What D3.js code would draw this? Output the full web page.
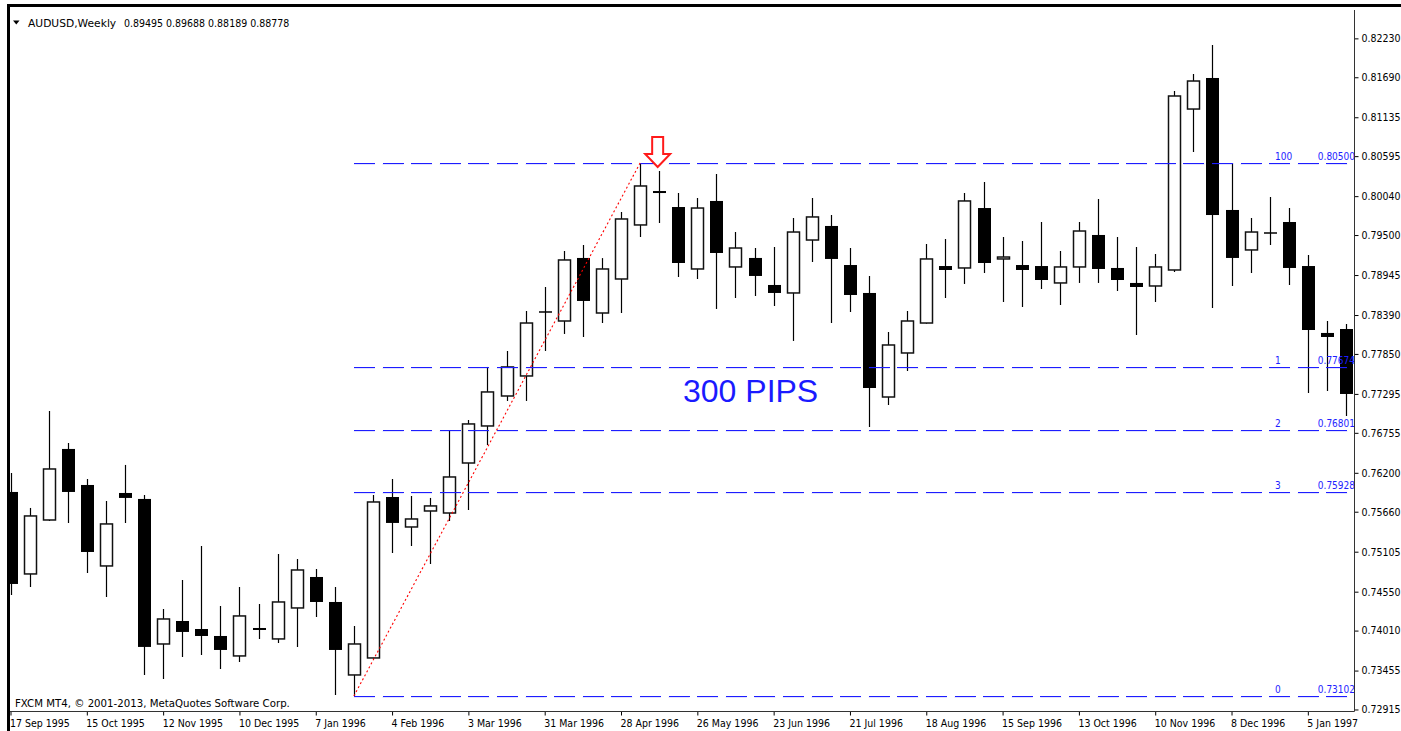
<!DOCTYPE html>
<html><head><meta charset="utf-8">
<script src="https://cdn.jsdelivr.net/npm/d3@7"></script>
<style>
html,body{margin:0;padding:0;background:#fff;overflow:hidden}
svg{display:block}
text{font-family:"DejaVu Sans Condensed","DejaVu Sans",sans-serif}
</style></head><body>
<svg id="c" width="1401" height="731"></svg>
<script>
const startDate = "1995-09-17";
const opens = [
0.75934,0.74796,0.75545,0.76531,0.76031,0.74907,0.75920,0.75837,0.73824,0.74143,
0.74032,0.73935,0.73658,0.74046,0.73894,0.74324,0.74754,0.74407,0.73394,0.73630,
0.75864,0.75448,0.75670,0.75642,0.76336,0.76850,0.77266,0.77544,0.78432,0.78307,
0.79182,0.78418,0.78890,0.79640,0.80111,0.79889,0.79029,0.79973,0.79057,0.79182,
0.78807,0.78696,0.79431,0.79626,0.79084,0.78696,0.77252,0.77863,0.78279,0.79070,
0.79043,0.79875,0.79168,0.79084,0.79070,0.78835,0.79057,0.79501,0.79043,0.78835,
0.78793,0.79015,0.81249,0.81680,0.79848,0.79293,0.79528,0.79681,0.79070,0.78141,
0.78196];
const highs = [
0.76197,0.75712,0.77058,0.76614,0.76114,0.75809,0.76309,0.75892,0.74310,0.74713,
0.75184,0.74352,0.74615,0.74379,0.75073,0.75004,0.74865,0.74615,0.74074,0.75892,
0.76114,0.75878,0.75851,0.76780,0.76933,0.77669,0.77891,0.78446,0.78779,0.79279,
0.79362,0.79180,0.79820,0.80500,0.80389,0.80084,0.80014,0.80347,0.79542,0.79320,
0.79334,0.79737,0.80014,0.79778,0.79320,0.78932,0.78154,0.78446,0.79376,0.79445,
0.80084,0.80236,0.79473,0.79417,0.79681,0.79279,0.79681,0.80000,0.79473,0.79334,
0.79237,0.81499,0.81735,0.82138,0.80500,0.79737,0.80028,0.79875,0.79223,0.78307,
0.78266];
const lows = [
0.74504,0.74615,0.75531,0.75504,0.74810,0.74477,0.75504,0.73394,0.73338,0.73644,
0.73672,0.73477,0.73574,0.73894,0.73838,0.73783,0.74199,0.73116,0.73102,0.73620,
0.75087,0.75184,0.74935,0.75531,0.75684,0.76586,0.77197,0.77197,0.77891,0.78127,
0.78085,0.78279,0.78418,0.79473,0.79667,0.78918,0.78890,0.78474,0.78626,0.78654,
0.78515,0.78030,0.79126,0.78279,0.78432,0.76836,0.77141,0.77613,0.78270,0.78626,
0.78821,0.78973,0.78571,0.78501,0.78751,0.78529,0.78835,0.78835,0.78723,0.78113,
0.78571,0.78987,0.80653,0.78488,0.78793,0.78973,0.79362,0.78807,0.77308,0.77336,
0.76989];
const closes = [
0.74657,0.75601,0.76253,0.75934,0.75101,0.75490,0.75851,0.73783,0.74171,0.73991,
0.73935,0.73741,0.74213,0.74019,0.74407,0.74851,0.74407,0.73741,0.73824,0.75795,
0.75504,0.75559,0.75740,0.76142,0.76878,0.77322,0.77669,0.78279,0.78432,0.79154,
0.78585,0.79029,0.79723,0.80181,0.80084,0.79112,0.79875,0.79251,0.79320,0.78932,
0.78696,0.79542,0.79751,0.79168,0.78668,0.77377,0.77974,0.78307,0.79168,0.79015,
0.79973,0.79112,0.79195,0.79015,0.78876,0.79057,0.79556,0.79029,0.78876,0.78779,
0.79057,0.81430,0.81638,0.79778,0.79182,0.79542,0.79528,0.79043,0.78182,0.78085,
0.77294];
const priceTicks = [0.82230,0.81690,0.81135,0.80595,0.80040,0.79500,0.78945,0.78390,0.77850,
  0.77295,0.76755,0.76200,0.75660,0.75105,0.74550,0.74010,0.73455,0.72915];
const dateTickLabels = ["17 Sep 1995","15 Oct 1995","12 Nov 1995","10 Dec 1995","7 Jan 1996",
  "4 Feb 1996","3 Mar 1996","31 Mar 1996","28 Apr 1996","26 May 1996","23 Jun 1996","21 Jul 1996",
  "18 Aug 1996","15 Sep 1996","13 Oct 1996","10 Nov 1996","8 Dec 1996","5 Jan 1997"];
const fibNames = ["100","1","2","3","0"];
const fibValues = [0.80500,0.77674,0.76801,0.75928,0.73102];
const fibStartIndex = 18, fibEndIndex = 33, arrowIndex = 34;
const titleSymbol = "AUDUSD,Weekly";
const titleValues = "0.89495 0.89688 0.88189 0.88778";
const copyright = "FXCM MT4, \u00A9 2001-2013, MetaQuotes Software Corp.";
const pipsLabel = "300 PIPS";

const svg = d3.select("#c");
const W = 1401, H = 731;
const plotL = 9, plotR = 1354.5, plotT = 8, plotB = 711.5;
const FIB_BLUE = "#1e1eff";

const t0 = new Date(startDate + "T00:00:00Z");
const dates = opens.map((_, i) => d3.utcDay.offset(t0, 7 * i));
const x = d3.scaleUtc().domain([dates[0], dates[dates.length - 1]]).range([10.5, 1346]);
const y = d3.scaleLinear().domain([0.73102, 0.80500]).range([696, 163]);

svg.append("defs").append("clipPath").attr("id", "plotclip")
  .append("rect").attr("x", plotL).attr("y", plotT).attr("width", plotR - plotL).attr("height", plotB - plotT);

const plot = svg.append("g").attr("clip-path", "url(#plotclip)");

// candles
const cg = plot.append("g");
opens.forEach((o, i) => {
  const c = closes[i], h = highs[i], l = lows[i];
  const cx = Math.round(x(dates[i])) + 0.5;
  cg.append("line").attr("x1", cx).attr("x2", cx)
    .attr("y1", y(h)).attr("y2", y(l)).style("stroke", "#000").style("stroke-width", 1.2);
  const yt = y(Math.max(o, c)), yb = y(Math.min(o, c));
  if (c > o) {
    cg.append("rect").attr("x", cx - 6).attr("y", yt).attr("width", 12).attr("height", Math.max(1, yb - yt))
      .style("fill", "#fff").style("stroke", "#111").style("stroke-width", 1.5);
  } else if (c < o) {
    cg.append("rect").attr("x", cx - 6.5).attr("y", yt).attr("width", 13).attr("height", Math.max(2, yb - yt))
      .style("fill", "#000");
  } else {
    cg.append("line").attr("x1", cx - 6.5).attr("x2", cx + 6.5).attr("y1", yt).attr("y2", yt)
      .style("stroke", "#000").style("stroke-width", 1.5);
  }
});

// Fibonacci levels (drawn over candles)
const fibX0 = x(dates[fibStartIndex]);
const fibG = plot.append("g").attr("class", "fib");
fibValues.forEach((v, i) => {
  const yy = Math.round(y(v));
  fibG.append("rect")
    .attr("x", fibX0).attr("y", yy - 0.5).attr("width", plotR - fibX0).attr("height", 1.5)
    .style("fill", "none").style("stroke", "none");
  fibG.append("line")
    .attr("x1", fibX0).attr("x2", plotR).attr("y1", yy + 0.5).attr("y2", yy + 0.5)
    .style("stroke", FIB_BLUE).style("stroke-width", 1).style("stroke-dasharray", "21 7.6")
    .style("shape-rendering", "crispEdges");
  fibG.append("line")
    .attr("x1", fibX0).attr("x2", plotR).attr("y1", yy + 1.25).attr("y2", yy + 1.25)
    .style("stroke", FIB_BLUE).style("stroke-opacity", 0.35).style("stroke-width", 0.5).style("stroke-dasharray", "21 7.6");
  fibG.append("text").attr("x", 1275).attr("y", yy - 3)
    .attr("font-size", 10).style("fill", FIB_BLUE).text(fibNames[i]);
  fibG.append("text").attr("x", 1355).attr("y", yy - 3).attr("text-anchor", "end")
    .attr("font-size", 10).style("fill", FIB_BLUE).text(d3.format(".5f")(v));
});

// red trend line
plot.append("line")
  .attr("x1", x(dates[fibStartIndex])).attr("y1", y(lows[fibStartIndex]))
  .attr("x2", x(dates[fibEndIndex])).attr("y2", y(highs[fibEndIndex]))
  .style("stroke", "#ff0000").style("stroke-width", 1.1).style("stroke-dasharray", "2 2.5");

// red arrow
const ax = x(dates[arrowIndex]) - 1.5, ay = y(fibValues[0]) + 4;
plot.append("path")
  .attr("d", `M${ax},${ay} L${ax - 12.5},${ay - 13} L${ax - 5.5},${ay - 13} L${ax - 5.5},${ay - 30} L${ax + 5.5},${ay - 30} L${ax + 5.5},${ay - 13} L${ax + 12.5},${ay - 13} Z`)
  .style("fill", "#fff").style("stroke", "#ff1a1a").style("stroke-width", 2).style("stroke-linejoin", "miter");

// 300 PIPS
plot.append("text").attr("x", 683).attr("y", 402)
  .style("font-family", "Liberation Sans, Arial, sans-serif")
  .attr("font-size", 32).style("fill", "#1a1aff").text(pipsLabel);

// copyright
svg.append("text").attr("x", 15).attr("y", 707).attr("font-size", 10.2)
  .style("font-family", "DejaVu Sans, sans-serif").style("fill", "#000").text(copyright);

// title
const tt = svg.append("text").attr("x", 28).attr("y", 26.5).attr("font-size", 10.5).style("fill", "#000");
tt.append("tspan").style("font-family", "DejaVu Sans, sans-serif").attr("font-size", 10.7).text(titleSymbol);
tt.append("tspan").attr("x", 124).text(titleValues);
svg.append("path").attr("d", "M13,20.5 L19.5,20.5 L16.25,24.5 Z").style("fill", "#000");

// price axis
const yAxis = d3.axisRight(y).tickValues(priceTicks).tickFormat(d3.format(".5f")).tickSize(4).tickPadding(3);
const yg = svg.append("g").attr("transform", `translate(${plotR},0)`).call(yAxis);
yg.select(".domain").remove();
yg.selectAll("text").attr("font-size", 10.5).style("font-family", null).style("fill", "#000");
yg.selectAll(".tick line").style("stroke", "#000");

// date axis
const tickDates = dates.filter((d, i) => i % 4 === 0);
const xAxis = d3.axisBottom(x).tickValues(tickDates).tickFormat((d, i) => dateTickLabels[i]).tickSize(4);
const xg = svg.append("g").attr("transform", `translate(0,${plotB})`).call(xAxis);
xg.select(".domain").remove();
xg.selectAll("text").attr("text-anchor", "start").attr("dy", null).attr("y", 15).attr("dx", -1)
  .attr("font-size", 10.5).style("font-family", null).style("fill", "#000");
xg.selectAll(".tick line").style("stroke", "#000");

// frame
svg.append("line").attr("x1", plotR).attr("x2", plotR).attr("y1", 10).attr("y2", plotB).style("stroke", "#333").style("stroke-width", 1);
svg.append("line").attr("x1", plotL).attr("x2", plotR).attr("y1", plotB).attr("y2", plotB).style("stroke", "#333").style("stroke-width", 1);
svg.append("rect").attr("x", 7).attr("y", 4).attr("width", W - 7).attr("height", 3).style("fill", "#000");
svg.append("rect").attr("x", 7).attr("y", 4).attr("width", 3).attr("height", H - 4).style("fill", "#000");
</script>
</body></html>
